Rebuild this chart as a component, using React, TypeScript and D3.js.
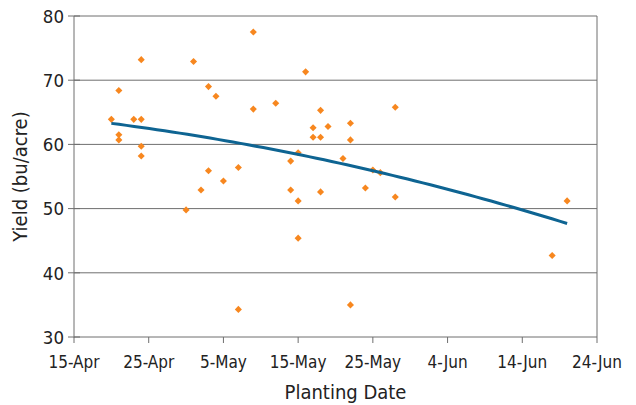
import React from "react";
import * as d3 from "d3";

// Planting date (YYYY-MM-DD) and yield (bu/acre)
const plantDates: string[] = [
  "2009-04-20",
  "2009-04-21", "2009-04-21", "2009-04-21",
  "2009-04-23",
  "2009-04-24", "2009-04-24", "2009-04-24", "2009-04-24",
  "2009-04-30",
  "2009-05-01",
  "2009-05-02",
  "2009-05-03", "2009-05-03",
  "2009-05-04",
  "2009-05-05",
  "2009-05-07", "2009-05-07",
  "2009-05-09", "2009-05-09",
  "2009-05-12",
  "2009-05-14", "2009-05-14",
  "2009-05-15", "2009-05-15", "2009-05-15",
  "2009-05-16",
  "2009-05-17", "2009-05-17",
  "2009-05-18", "2009-05-18", "2009-05-18",
  "2009-05-19",
  "2009-05-21",
  "2009-05-22", "2009-05-22", "2009-05-22",
  "2009-05-24",
  "2009-05-25",
  "2009-05-26",
  "2009-05-28", "2009-05-28",
  "2009-06-18",
  "2009-06-20",
];
const yields: number[] = [
  63.9,
  68.4, 61.5, 60.7,
  63.9,
  63.9, 73.2, 59.7, 58.2,
  49.8,
  72.9,
  52.9,
  69.0, 55.9,
  67.5,
  54.3,
  56.4, 34.3,
  77.5, 65.5,
  66.4,
  57.4, 52.9,
  58.7, 51.2, 45.4,
  71.3,
  62.6, 61.1,
  65.3, 61.1, 52.6,
  62.8,
  57.8,
  63.3, 60.7, 35.0,
  53.2,
  56.0,
  55.6,
  65.8, 51.8,
  42.7,
  51.2,
];

const xTickDates: string[] = [
  "2009-04-15", "2009-04-25", "2009-05-05", "2009-05-15",
  "2009-05-25", "2009-06-04", "2009-06-14", "2009-06-24",
];
const yTicks: number[] = [30, 40, 50, 60, 70, 80];

const xTitle = "Planting Date";
const yTitle = "Yield (bu/acre)";

const parse = d3.timeParse("%Y-%m-%d");
const fmt = d3.timeFormat("%-d-%b");

const W = 636;
const H = 405;
const left = 74;
const right = 597;
const top = 16;
const bottom = 337;

const FONT = "'DejaVu Sans Condensed', 'DejaVu Sans', sans-serif";

export default function App() {
  const dates = plantDates.map((s) => parse(s) as Date);
  const ticks = xTickDates.map((s) => parse(s) as Date);
  const x = d3.scaleTime().domain([ticks[0], ticks[ticks.length - 1]]).range([left, right]);
  const y = d3.scaleLinear().domain([30, 80]).range([bottom, top]);

  // quadratic least-squares trendline (like a spreadsheet polynomial trendline)
  const t0 = ticks[0].getTime();
  const DAY = 86400000;
  const ts = dates.map((d) => (d.getTime() - t0) / DAY);
  const n = ts.length;
  let s1 = 0, s2 = 0, s3 = 0, s4 = 0, sy = 0, sty = 0, st2y = 0;
  ts.forEach((t, i) => {
    const v = yields[i];
    s1 += t; s2 += t * t; s3 += t * t * t; s4 += t * t * t * t;
    sy += v; sty += t * v; st2y += t * t * v;
  });
  const M = [
    [n, s1, s2, sy],
    [s1, s2, s3, sty],
    [s2, s3, s4, st2y],
  ];
  for (let i = 0; i < 3; i++) {
    for (let k = i + 1; k < 3; k++) {
      const f = M[k][i] / M[i][i];
      for (let j = i; j < 4; j++) M[k][j] -= f * M[i][j];
    }
  }
  const coef = [0, 0, 0];
  for (let i = 2; i >= 0; i--) {
    let s = M[i][3];
    for (let j = i + 1; j < 3; j++) s -= M[i][j] * coef[j];
    coef[i] = s / M[i][i];
  }
  const tMin = d3.min(ts) as number;
  const tMax = d3.max(ts) as number;
  const trendPts: [number, number][] = d3.range(0, 61).map((i) => {
    const t = tMin + ((tMax - tMin) * i) / 60;
    return [t, coef[0] + coef[1] * t + coef[2] * t * t];
  });
  const line = d3
    .line<[number, number]>()
    .x((p) => x(new Date(t0 + p[0] * DAY)))
    .y((p) => y(p[1]))
    .curve(d3.curveLinear);

  const marker = d3.symbol(d3.symbolSquare, 25)() as string;

  return (
    <svg width={W} height={H} style={{ position: "absolute", left: 0, top: 0, background: "#fff" }}>
      {/* gridlines */}
      {yTicks.map((v) => (
        <line key={"g" + v} x1={left} x2={right} y1={y(v)} y2={y(v)} stroke="#6f6f6f" strokeWidth={1} />
      ))}
      {/* right frame */}
      <line x1={right} x2={right} y1={top} y2={bottom} stroke="#6f6f6f" strokeWidth={1} />
      {/* left axis */}
      <line x1={left} x2={left} y1={top} y2={bottom + 0.5} stroke="#6f6f6f" strokeWidth={1} />
      {/* y ticks */}
      {yTicks.map((v) => (
        <g key={"yt" + v}>
          <line x1={left - 6} x2={left + 6} y1={y(v)} y2={y(v)} stroke="#6f6f6f" />
          <text x={64} y={y(v) + 6.8} textAnchor="end" fontFamily={FONT} fontSize={18.5} fill="#222">
            {v}
          </text>
        </g>
      ))}
      {/* x ticks */}
      {ticks.map((d, i) => (
        <g key={"xt" + i}>
          <line x1={x(d)} x2={x(d)} y1={bottom} y2={bottom + 6} stroke="#6f6f6f" />
          <text x={x(d)} y={368} textAnchor="middle" fontFamily={FONT} fontSize={17} fill="#222">
            {fmt(d)}
          </text>
        </g>
      ))}
      {/* points */}
      {dates.map((d, i) => (
        <path
          key={"p" + i}
          d={marker}
          transform={`translate(${x(d)},${y(yields[i])}) rotate(45)`}
          fill="#f7871f"
        />
      ))}
      {/* trendline */}
      <path d={line(trendPts) as string} fill="none" stroke="#0e6492" strokeWidth={3} />
      {/* titles */}
      <text x={(left + right) / 2 + 10} y={399} textAnchor="middle" fontFamily={FONT} fontSize={20} fill="#222">
        {xTitle}
      </text>
      <text
        transform={`translate(27,${(top + bottom) / 2}) rotate(-90)`}
        textAnchor="middle"
        fontFamily={FONT}
        fontSize={20}
        fill="#222"
      >
        {yTitle}
      </text>
    </svg>
  );
}
